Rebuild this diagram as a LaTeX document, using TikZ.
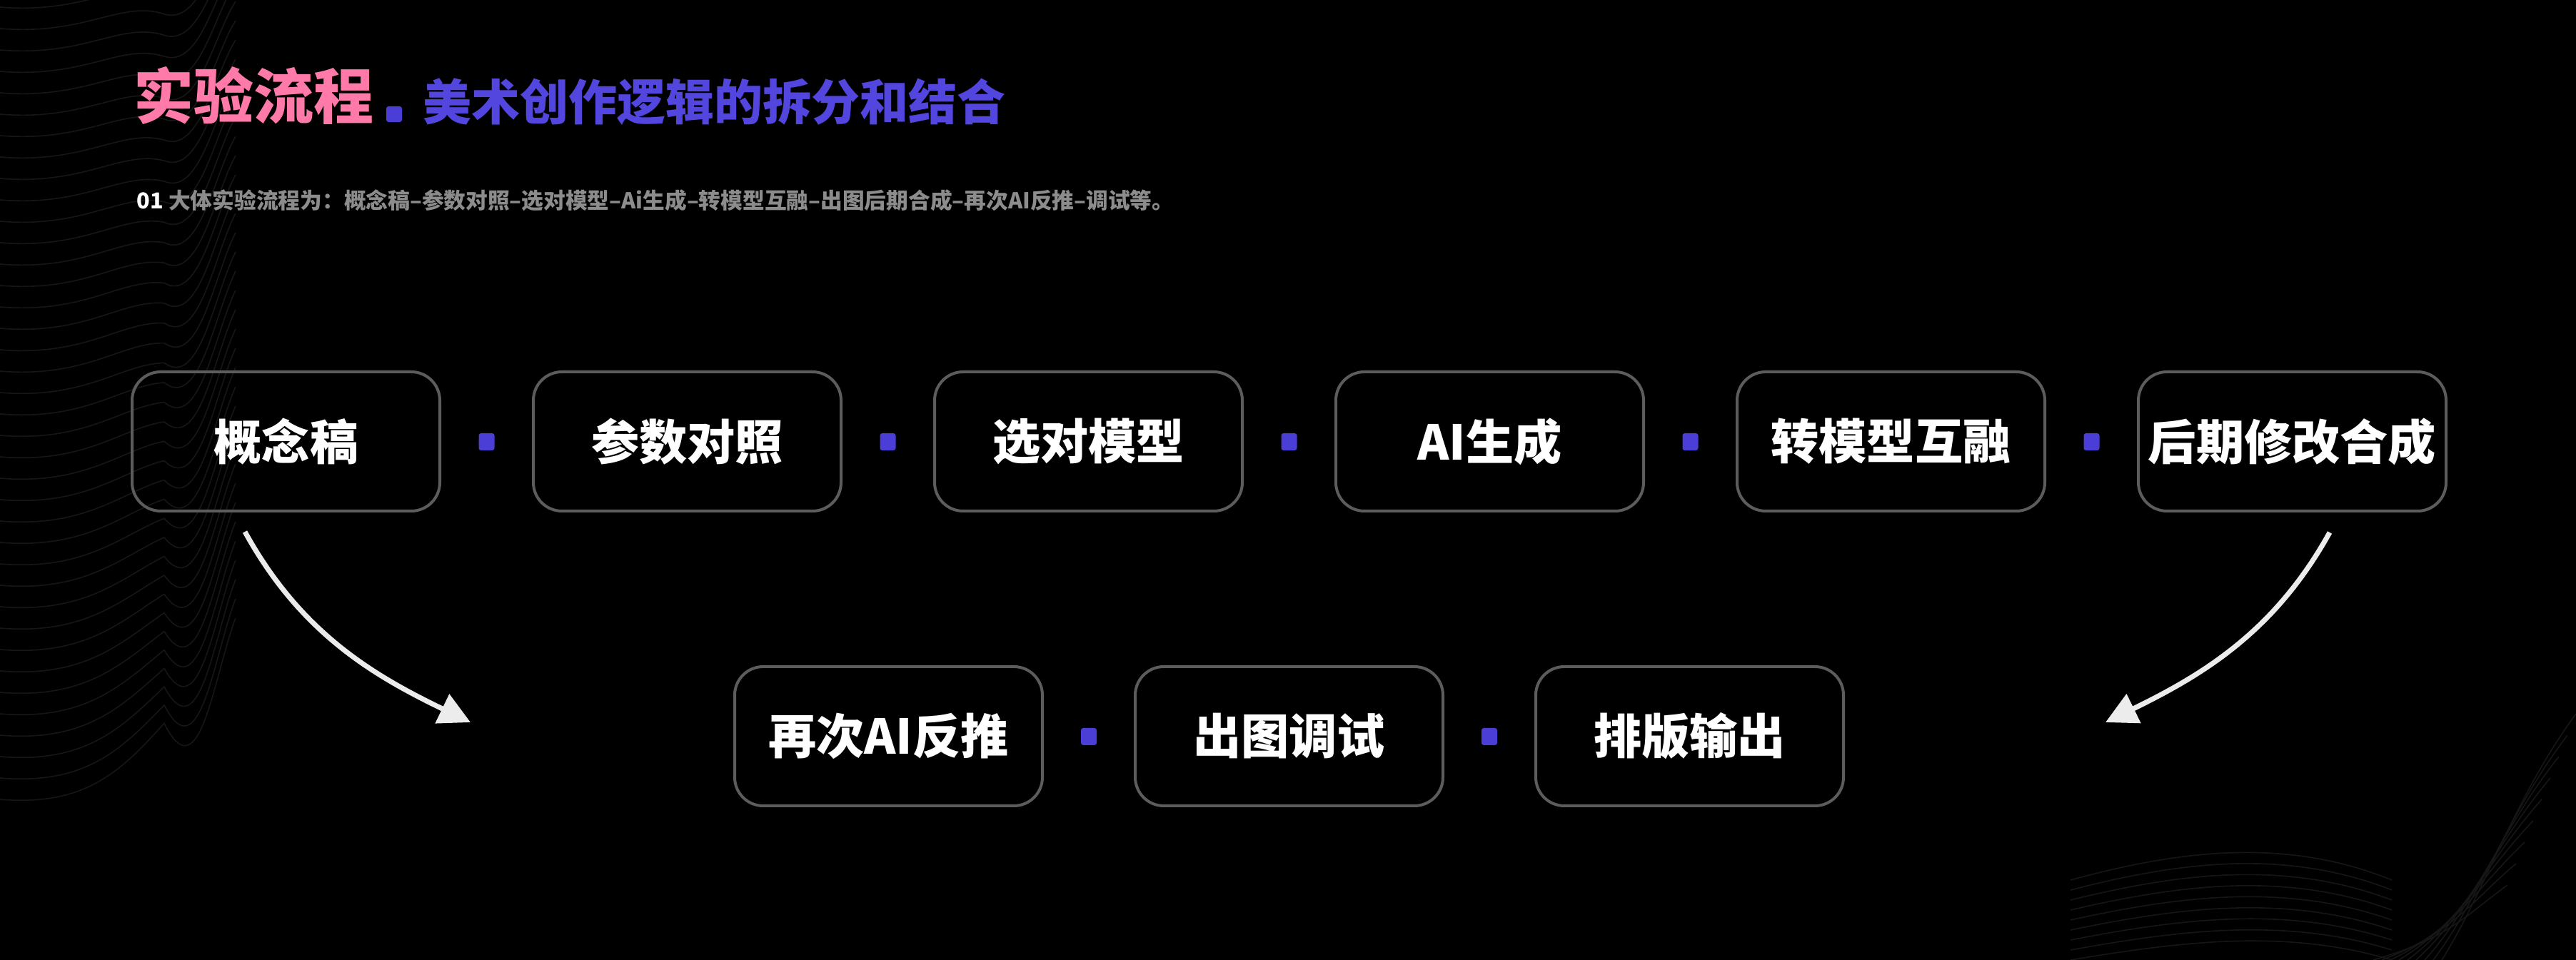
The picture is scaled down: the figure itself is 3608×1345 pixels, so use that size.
\documentclass[tikz,border=0pt]{standalone}
\usepackage{fontspec}
\newfontfamily\cjk{Noto Sans CJK SC}
\usetikzlibrary{arrows.meta}
\definecolor{pinktitle}{RGB}{255,122,168}
\definecolor{bluetitle}{RGB}{82,70,222}
\definecolor{dotblue}{RGB}{74,62,214}
\definecolor{boxgray}{RGB}{92,92,92}
\definecolor{subgray}{RGB}{140,140,140}
\definecolor{arrowwhite}{RGB}{236,236,236}
\definecolor{texture}{RGB}{22,22,22}
\begin{document}
\begin{tikzpicture}[x=0.25pt,y=-0.25pt,
  stepbox/.style={draw=boxgray, line width=1pt, rounded corners=10pt,
    minimum width=107.75pt, minimum height=48.75pt, inner sep=0pt,
    text=white, font=\cjk\bfseries\fontsize{16.8}{20}\selectfont},
  sepdot/.style={fill=dotblue, rounded corners=0.8pt, minimum width=5.5pt,
    minimum height=6pt, inner sep=0pt},
  flowarrow/.style={draw=arrowwhite, line width=1.75pt,
    -{Triangle[length=11pt,width=11pt,fill=arrowwhite]}},
  tline/.style={draw=texture, line width=0.4pt}]
\fill[black] (0,0) rectangle (3608,1345);
\useasboundingbox (0,0) rectangle (3608,1345);
% faint background texture
\foreach \i in {0,...,38}{
  \draw[tline] (0,{-20+30*\i}) .. controls (120,{-10+30*\i}) and (170,{-60+30*\i}) .. (230,{-40+30*\i-0.6*\i*\i/10})
     .. controls (280,{-25+30*\i}) and (300,{-120+28*\i}) .. (330,{-160+27*\i});
}
\foreach \i in {0,...,8}{
  \draw[tline] (2900,{1345-14*\i}) .. controls (3050,{1320-16*\i}) and (3200,{1300-16*\i}) .. (3350,{1345-14*\i});
  \draw[tline] ({3608-12*\i},{1000+30*\i}) .. controls ({3520-8*\i},{1120+20*\i}) and ({3480-6*\i},{1250+8*\i}) .. ({3420-12*\i},1345);
}
% title
\node[anchor=west, inner sep=0pt, text=pinktitle, font=\cjk\bfseries\fontsize{21}{24}\selectfont] (title) at (187,134) {实验流程};
\node[fill=dotblue, rounded corners=0.8pt, minimum width=5.5pt, minimum height=5.5pt, inner sep=0pt] (tdot) at (552,160) {};
\node[anchor=west, inner sep=0pt, text=bluetitle, font=\cjk\bfseries\fontsize{17}{20}\selectfont] (subtitle) at (592,143) {美术创作逻辑的拆分和结合};
\node[anchor=west, inner sep=0pt, font=\cjk\bfseries\fontsize{7.68}{9}\selectfont] (desc) at (191,281)
  {\textcolor{white}{01} \textcolor{subgray}{大体实验流程为：概念稿–参数对照–选对模型–Ai生成–转模型互融–出图后期合成–再次AI反推–调试等。}};
% top row
\node[stepbox] (b1) at (400.5,618.5) {概念稿};
\node[stepbox] (b2) at (962.5,618.5) {参数对照};
\node[stepbox] (b3) at (1524.5,618.5) {选对模型};
\node[stepbox] (b4) at (2086.5,618.5) {AI生成};
\node[stepbox] (b5) at (2648.5,618.5) {转模型互融};
\node[stepbox] (b6) at (3210.5,618.5) {后期修改合成};
\node[sepdot] (d1) at (681.5,619) {};
\node[sepdot] (d2) at (1243.5,619) {};
\node[sepdot] (d3) at (1805.5,619) {};
\node[sepdot] (d4) at (2367.5,619) {};
\node[sepdot] (d5) at (2929.5,619) {};
% bottom row
\node[stepbox] (c1) at (1244.5,1031.5) {再次AI反推};
\node[stepbox] (c2) at (1805.5,1031.5) {出图调试};
\node[stepbox] (c3) at (2366.5,1031.5) {排版输出};
\node[sepdot] (e1) at (1525,1032) {};
\node[sepdot] (e2) at (2086,1032) {};
% arrows
\coordinate (a1s) at (343,745);
\coordinate (a1e) at (659,1012);
\coordinate (a2s) at (3263,746);
\coordinate (a2e) at (2949,1012);
\draw[flowarrow] (a1s) .. controls (420,885) and (520,945) .. (a1e);
\draw[flowarrow] (a2s) .. controls (3186,885) and (3086,945) .. (a2e);
\end{tikzpicture}
\end{document}
